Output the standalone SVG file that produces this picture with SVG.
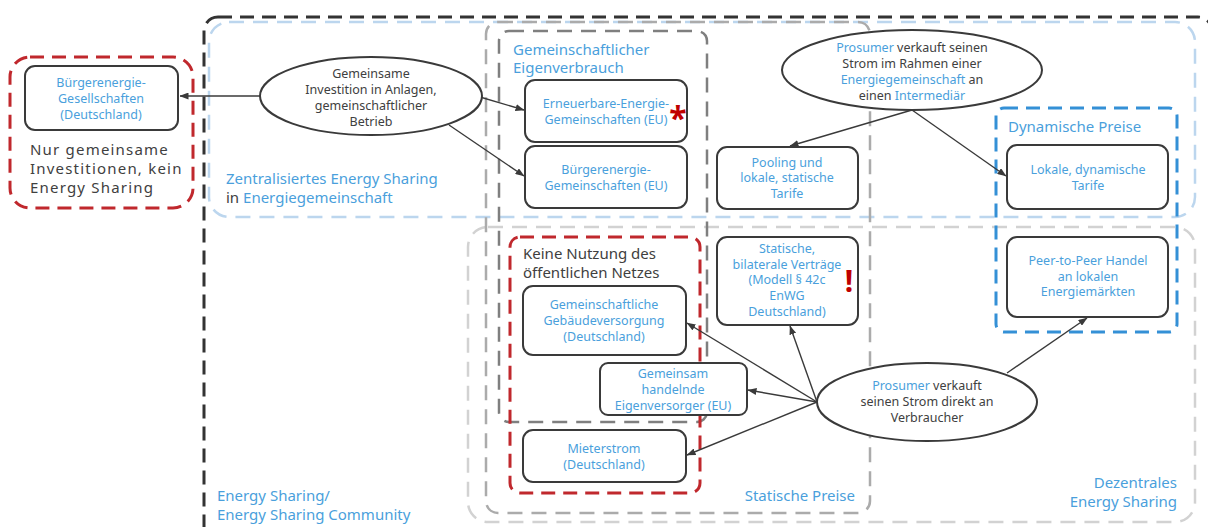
<svg xmlns="http://www.w3.org/2000/svg" width="1208" height="527" viewBox="0 0 1208 527">
<style>
text{font-family:"Noto Sans","Open Sans",sans-serif}
.nt{font-size:12.5px;fill:#4a9fdc;text-anchor:middle}
.et{font-size:12.5px;fill:#404040;text-anchor:middle}
.b{fill:#4a9fdc}
.lbl{font-size:15px;fill:#4a9fdc}
.dk{font-size:15px;fill:#404040}
.big{font-size:15px;fill:#404040;letter-spacing:1.2px}
.node{fill:#fff;stroke:#3a3a3a;stroke-width:2}
.ell{fill:#fff;stroke:#3a3a3a;stroke-width:2}
.con{fill:none;stroke:#3a3a3a;stroke-width:1.4;marker-end:url(#ah)}
.red{fill:none;stroke:#c0282d;stroke-width:3;stroke-dasharray:14 8}
.mark{font-weight:bold;fill:#c00000;text-anchor:middle}
</style>
<defs>
<marker id="ah" markerWidth="9" markerHeight="7" refX="8.5" refY="3.5" orient="auto" markerUnits="userSpaceOnUse"><path d="M0,0 L9,3.5 L0,7 z" fill="#3a3a3a"/></marker>
</defs>
<g id="containers">
<rect id="energy-sharing" x="204" y="17" width="1008" height="540" rx="14" fill="none" stroke="#333" stroke-width="3" stroke-dasharray="14 8"/>
<rect id="zentral" x="209" y="22" width="986" height="195" rx="20" fill="none" stroke="#bcd6ee" stroke-width="2.5" stroke-dasharray="15 9"/>
<rect id="dezentral" x="468" y="227" width="727" height="295" rx="20" fill="none" stroke="#d2d2d2" stroke-width="2.5" stroke-dasharray="15 9"/>
<rect id="statisch" x="486" y="22" width="384" height="491" rx="12" fill="none" stroke="#ababab" stroke-width="2.5" stroke-dasharray="15 9"/>
<rect id="eigenverbrauch" x="499" y="31" width="208" height="391" rx="10" fill="none" stroke="#7f7f7f" stroke-width="2.5" stroke-dasharray="15 9"/>
<rect id="nur-invest" x="10" y="57" width="183" height="151" rx="20" class="red"/>
<rect id="keine-netz" x="510" y="237" width="190" height="256" rx="10" class="red"/>
<rect id="dynamisch" x="996" y="108" width="181" height="224" rx="8" fill="none" stroke="#3490d6" stroke-width="3" stroke-dasharray="14 8"/>
<text class="big" x="30" y="155">Nur gemeinsame</text>
<text class="big" x="30" y="174">Investitionen, kein</text>
<text class="big" x="30" y="193">Energy Sharing</text>
<text class="lbl" x="226" y="184">Zentralisiertes Energy Sharing</text>
<text class="lbl" x="226" y="203"><tspan fill="#404040">in </tspan>Energiegemeinschaft</text>
<text class="lbl" x="217" y="501">Energy Sharing/</text>
<text class="lbl" x="217" y="520">Energy Sharing Community</text>
<text class="lbl" x="513" y="55">Gemeinschaftlicher</text>
<text class="lbl" x="513" y="73">Eigenverbrauch</text>
<text class="dk" x="523" y="259">Keine Nutzung des</text>
<text class="dk" x="523" y="278">öffentlichen Netzes</text>
<text class="lbl" x="1008" y="132">Dynamische Preise</text>
<text class="lbl" x="855" y="501" text-anchor="end">Statische Preise</text>
<text class="lbl" x="1177" y="488" text-anchor="end">Dezentrales</text>
<text class="lbl" x="1177" y="507" text-anchor="end">Energy Sharing</text>
</g>
<g id="connectors">
<line class="con" x1="260" y1="96" x2="180" y2="96"/>
<line class="con" x1="480" y1="97" x2="524" y2="110"/>
<line class="con" x1="449" y1="125" x2="524" y2="176"/>
<line class="con" x1="912" y1="110" x2="790" y2="146"/>
<line class="con" x1="912" y1="110" x2="1006" y2="176"/>
<line class="con" x1="817" y1="402" x2="687" y2="323"/>
<line class="con" x1="817" y1="402" x2="790" y2="326"/>
<line class="con" x1="817" y1="402" x2="748" y2="390"/>
<line class="con" x1="817" y1="402" x2="687" y2="455"/>
<line class="con" x1="1007" y1="373" x2="1087" y2="318"/>
</g>
<g id="n-bges">
<rect class="node" x="25" y="66" width="153" height="64" rx="10"/>
<text class="nt" x="101" y="87">Bürgerenergie-</text>
<text class="nt" x="101" y="103">Gesellschaften</text>
<text class="nt" x="101" y="119">(Deutschland)</text>
</g>
<g id="e-invest">
<ellipse class="ell" cx="371" cy="96" rx="111" ry="39"/>
<text class="et" x="371" y="78">Gemeinsame</text>
<text class="et" x="371" y="94">Investition in Anlagen,</text>
<text class="et" x="371" y="110">gemeinschaftlicher</text>
<text class="et" x="371" y="126">Betrieb</text>
</g>
<g id="n-eeg">
<rect class="node" x="525" y="80" width="162" height="62" rx="10"/>
<text class="nt" x="606" y="108">Erneuerbare-Energie-</text>
<text class="nt" x="606" y="124">Gemeinschaften (EU)</text>
<text class="mark" x="678" y="130" font-size="32">*</text>
</g>
<g id="n-beg">
<rect class="node" x="525" y="146" width="162" height="62" rx="10"/>
<text class="nt" x="606" y="174">Bürgerenergie-</text>
<text class="nt" x="606" y="190">Gemeinschaften (EU)</text>
</g>
<g id="e-prosumer1">
<ellipse class="ell" cx="912" cy="70" rx="130" ry="40"/>
<text class="et" x="912" y="52"><tspan class="b">Prosumer</tspan> verkauft seinen</text>
<text class="et" x="912" y="68">Strom im Rahmen einer</text>
<text class="et" x="912" y="84"><tspan class="b">Energiegemeinschaft</tspan> an</text>
<text class="et" x="912" y="100">einen <tspan class="b">Intermediär</tspan></text>
</g>
<g id="n-pooling">
<rect class="node" x="717" y="147" width="141" height="62" rx="10"/>
<text class="nt" x="787" y="167">Pooling und</text>
<text class="nt" x="787" y="182">lokale, statische</text>
<text class="nt" x="787" y="198">Tarife</text>
</g>
<g id="n-lokdyn">
<rect class="node" x="1007" y="145" width="161" height="64" rx="10"/>
<text class="nt" x="1088" y="174">Lokale, dynamische</text>
<text class="nt" x="1088" y="190">Tarife</text>
</g>
<g id="n-bilateral">
<rect class="node" x="717" y="237" width="141" height="88" rx="10"/>
<text class="nt" x="787" y="253">Statische,</text>
<text class="nt" x="787" y="269">bilaterale Verträge</text>
<text class="nt" x="787" y="284">(Modell § 42c</text>
<text class="nt" x="787" y="300">EnWG</text>
<text class="nt" x="787" y="316">Deutschland)</text>
<text class="mark" x="849" y="292" font-size="30">!</text>
</g>
<g id="n-p2p">
<rect class="node" x="1007" y="237" width="161" height="80" rx="10"/>
<text class="nt" x="1088" y="265">Peer-to-Peer Handel</text>
<text class="nt" x="1088" y="281">an lokalen</text>
<text class="nt" x="1088" y="296">Energiemärkten</text>
</g>
<g id="n-gebaeude">
<rect class="node" x="523" y="286" width="163" height="69" rx="10"/>
<text class="nt" x="604" y="309">Gemeinschaftliche</text>
<text class="nt" x="604" y="325">Gebäudeversorgung</text>
<text class="nt" x="604" y="341">(Deutschland)</text>
</g>
<g id="n-eigenversorger">
<rect class="node" x="600" y="363" width="147" height="52" rx="8"/>
<text class="nt" x="673" y="378">Gemeinsam</text>
<text class="nt" x="673" y="394">handelnde</text>
<text class="nt" x="673" y="410">Eigenversorger (EU)</text>
</g>
<g id="n-mieterstrom">
<rect class="node" x="523" y="430" width="163" height="52" rx="10"/>
<text class="nt" x="604" y="453">Mieterstrom</text>
<text class="nt" x="604" y="469">(Deutschland)</text>
</g>
<g id="e-prosumer2">
<ellipse class="ell" cx="927" cy="402" rx="110" ry="39"/>
<text class="et" x="927" y="390"><tspan class="b">Prosumer</tspan> verkauft</text>
<text class="et" x="927" y="406">seinen Strom direkt an</text>
<text class="et" x="927" y="422">Verbraucher</text>
</g>
</svg>
